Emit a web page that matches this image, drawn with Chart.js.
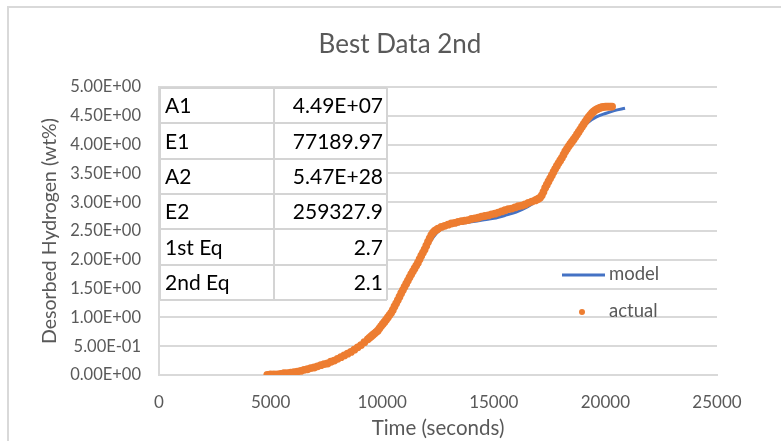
<!DOCTYPE html>
<html>
<head>
<meta charset="utf-8">
<script src="https://cdn.jsdelivr.net/npm/chart.js@4/dist/chart.umd.min.js"></script>
<style>
  html, body { margin: 0; padding: 0; background: #fff; }
  #wrap { position: relative; width: 781px; height: 441px; overflow: hidden; }
  canvas { display: block; }
</style>
</head>
<body>
<div id="wrap"><canvas id="c" width="781" height="441"></canvas></div>
<script>
// Model fit: time (s) vs desorbed hydrogen (wt%)
const modelTime = [5000, 5500, 6000, 6500, 7000, 7500, 8000, 8500, 9000, 9500,
  10000, 10500, 11000, 11500, 12000, 12300, 12600, 13000, 13500, 14000,
  14500, 15000, 15500, 16000, 16500, 16800, 17100, 17400, 17700, 18000,
  18300, 18600, 18900, 19200, 19600, 20000, 20400, 20880];
const modelWt = [0.00, 0.01, 0.03, 0.06, 0.11, 0.18, 0.27, 0.37, 0.48, 0.63,
  0.86, 1.13, 1.47, 1.85, 2.22, 2.40, 2.52, 2.59, 2.63, 2.66,
  2.69, 2.72, 2.77, 2.83, 2.92, 2.99, 3.08, 3.25, 3.55, 3.78,
  3.96, 4.13, 4.27, 4.38, 4.48, 4.54, 4.59, 4.63];

// Measured desorption data (sampled more finely where the curve is steep)
const actualTime = [
  4850, 5000, 5150, 5300, 5450, 5600, 5750, 5900, 6050, 6200,
  6350, 6500, 6650, 6800, 6950, 7100, 7250, 7400, 7550, 7700,
  7850, 8000, 8150, 8300, 8450, 8600, 8750, 8900, 9050, 9200,
  9350,
  9425, 9500, 9575, 9650, 9725, 9800, 9875, 9950, 10025, 10100,
  10175, 10250, 10325, 10400, 10475, 10550, 10625, 10700, 10775, 10850,
  10925, 11000, 11075, 11150, 11225, 11300, 11375, 11450, 11525, 11600,
  11675, 11750, 11825, 11900, 11975, 12050, 12125, 12200, 12275, 12350,
  12425, 12500,
  12650, 12800, 12950, 13100, 13250, 13400, 13550, 13700, 13850, 14000,
  14150, 14300, 14450, 14600, 14750, 14900, 15050, 15200, 15350, 15500,
  15650, 15800, 15950, 16100, 16250, 16400, 16550, 16700, 16850,
  16925, 17000, 17075, 17150, 17225, 17300, 17375, 17450, 17525, 17600,
  17675, 17750, 17825, 17900, 17975, 18050, 18125, 18200, 18275, 18350,
  18425, 18500, 18575, 18650, 18725, 18800, 18875, 18950, 19025, 19100,
  19175, 19250, 19325, 19400, 19475, 19550, 19625, 19700,
  19775, 19850, 19925, 20000, 20075, 20150, 20225, 20300];
const actualWt = [
  0.00, 0.01, 0.01, 0.01, 0.02, 0.03, 0.03, 0.04, 0.05, 0.06,
  0.07, 0.09, 0.10, 0.12, 0.13, 0.15, 0.17, 0.19, 0.20, 0.23,
  0.25, 0.28, 0.31, 0.34, 0.37, 0.40, 0.44, 0.48, 0.52, 0.57,
  0.62,
  0.645, 0.67, 0.695, 0.72, 0.745, 0.77, 0.81, 0.85, 0.885, 0.92,
  0.96, 1.00, 1.04, 1.08, 1.13, 1.19, 1.245, 1.30, 1.36, 1.42,
  1.475, 1.53, 1.585, 1.64, 1.695, 1.75, 1.80, 1.85, 1.90, 1.95,
  2.01, 2.07, 2.125, 2.18, 2.245, 2.31, 2.37, 2.43, 2.47, 2.50,
  2.52, 2.54,
  2.57, 2.59, 2.61, 2.63, 2.64, 2.66, 2.67, 2.68, 2.69, 2.71,
  2.72, 2.73, 2.75, 2.76, 2.77, 2.79, 2.80, 2.82, 2.84, 2.86,
  2.88, 2.89, 2.91, 2.93, 2.94, 2.96, 2.99, 3.01, 3.03,
  3.045, 3.06, 3.08, 3.12, 3.18, 3.25, 3.305, 3.36, 3.415, 3.47,
  3.525, 3.58, 3.63, 3.68, 3.725, 3.77, 3.825, 3.88, 3.925, 3.97,
  4.01, 4.05, 4.09, 4.13, 4.175, 4.22, 4.265, 4.31, 4.355, 4.40,
  4.44, 4.48, 4.515, 4.55, 4.575, 4.60, 4.615, 4.63,
  4.64, 4.65, 4.655, 4.66, 4.66, 4.66, 4.66, 4.66];

// Fitted kinetic parameters shown in the inset table
const paramNames = ['A1', 'E1', 'A2', 'E2', '1st Eq', '2nd Eq'];
const paramValues = ['4.49E+07', '77189.97', '5.47E+28', '259327.9', '2.7', '2.1'];

const yTickLabels = ['0.00E+00', '5.00E-01', '1.00E+00', '1.50E+00', '2.00E+00', '2.50E+00',
  '3.00E+00', '3.50E+00', '4.00E+00', '4.50E+00', '5.00E+00'];
const xTickLabels = ['0', '5000', '10000', '15000', '20000', '25000'];

const FONT = 'Lato, "Open Sans", sans-serif';
const GREY = '#595959';
const BLUE = '#4472C4';
const ORANGE = '#ED7D31';

// Light outer frame of the chart object
const framePlugin = {
  id: 'frame',
  beforeDraw(chart) {
    const ctx = chart.ctx;
    ctx.save();
    ctx.fillStyle = '#fff';
    ctx.fillRect(0, 0, chart.width, chart.height);
    ctx.strokeStyle = '#d9d9d9';
    ctx.lineWidth = 2;
    ctx.strokeRect(8, 7, 900, 900);
    ctx.restore();
  }
};

// Chart heading
const headingPlugin = {
  id: 'heading',
  afterDraw(chart) {
    const ctx = chart.ctx;
    ctx.save();
    ctx.font = '26px ' + FONT;
    ctx.fillStyle = GREY;
    ctx.textAlign = 'center';
    ctx.textBaseline = 'middle';
    ctx.fillText('Best Data 2nd', 400, 45);
    ctx.restore();
  }
};

// Parameter table laid over the upper-left of the plot
const tablePlugin = {
  id: 'paramTable',
  afterDraw(chart) {
    const ctx = chart.ctx;
    const left = 160, mid = 274, right = 387, top = 88, rowH = 35.33;
    const bottom = top + rowH * paramNames.length;
    ctx.save();
    ctx.fillStyle = '#fff';
    ctx.fillRect(left, top, right - left, bottom - top);
    ctx.strokeStyle = '#d4d4d4';
    ctx.lineWidth = 2;
    ctx.beginPath();
    for (let i = 0; i <= paramNames.length; i++) {
      const y = Math.round(top + rowH * i);
      ctx.moveTo(left, y); ctx.lineTo(right, y);
    }
    [left, mid, right].forEach(x => { ctx.moveTo(x, top); ctx.lineTo(x, bottom); });
    ctx.stroke();
    ctx.font = '21px ' + FONT;
    ctx.fillStyle = '#000';
    ctx.textBaseline = 'middle';
    paramNames.forEach((name, i) => {
      const cy = top + rowH * i + rowH / 2 + 1;
      ctx.textAlign = 'left';
      ctx.fillText(name, left + 5, cy);
      ctx.textAlign = 'right';
      ctx.fillText(paramValues[i], right - 4, cy);
    });
    ctx.restore();
  }
};

// Legend placed inside the plot, to the right
const legendPlugin = {
  id: 'insetLegend',
  afterDraw(chart) {
    const ctx = chart.ctx;
    const [model, actual] = chart.data.datasets;
    ctx.save();
    ctx.strokeStyle = model.borderColor;
    ctx.lineWidth = model.borderWidth;
    ctx.beginPath();
    ctx.moveTo(562, 275); ctx.lineTo(605, 275);
    ctx.stroke();
    ctx.fillStyle = actual.backgroundColor;
    ctx.beginPath();
    ctx.arc(582, 312, 3, 0, Math.PI * 2);
    ctx.fill();
    ctx.font = '18.5px ' + FONT;
    ctx.fillStyle = GREY;
    ctx.textAlign = 'left';
    ctx.textBaseline = 'middle';
    ctx.fillText(model.label, 609, 274);
    ctx.fillText(actual.label, 609, 311);
    ctx.restore();
  }
};

new Chart(document.getElementById('c'), {
  type: 'scatter',
  data: {
    datasets: [
      {
        label: 'model',
        data: modelTime.map((t, i) => ({ x: t, y: modelWt[i] })),
        showLine: true,
        borderColor: BLUE,
        backgroundColor: BLUE,
        borderWidth: 3,
        pointRadius: 0,
        cubicInterpolationMode: 'monotone',
        order: 2
      },
      {
        label: 'actual',
        data: actualTime.map((t, i) => ({ x: t, y: actualWt[i] })),
        showLine: false,
        backgroundColor: ORANGE,
        borderColor: ORANGE,
        borderWidth: 0,
        pointRadius: 3.9,
        order: 1
      }
    ]
  },
  options: {
    responsive: false,
    animation: false,
    devicePixelRatio: 1,
    layout: { padding: { top: 87, right: 64, left: 0, bottom: 0 } },
    plugins: {
      legend: { display: false },
      tooltip: { enabled: false },
      title: { display: false }
    },
    scales: {
      x: {
        type: 'linear',
        min: 0,
        max: 25000,
        ticks: {
          stepSize: 5000,
          padding: 17,
          color: GREY,
          font: { family: FONT, size: 17 },
          callback: (v, i) => xTickLabels[i]
        },
        grid: { display: false, drawTicks: false },
        border: { display: true, color: '#d9d9d9', width: 2 },
        title: { display: true, text: 'Time (seconds)', color: GREY, font: { family: FONT, size: 20.5 }, padding: { top: 0, bottom: 0 } },
        afterFit(scale) { scale.height = 66; }
      },
      y: {
        min: 0,
        max: 5,
        ticks: {
          stepSize: 0.5,
          padding: 18,
          color: GREY,
          font: { family: FONT, size: 16.5 },
          callback: (v, i) => yTickLabels[i]
        },
        grid: { color: '#d9d9d9', lineWidth: 2, drawTicks: false },
        border: { display: true, color: '#d9d9d9', width: 2 },
        title: { display: true, text: 'Desorbed Hydrogen (wt%)', color: GREY, font: { family: FONT, size: 19.5 }, padding: { top: 38, bottom: 0 } },
        afterFit(scale) { scale.width = 159; }
      }
    }
  },
  plugins: [framePlugin, headingPlugin, tablePlugin, legendPlugin]
});
</script>
</body>
</html>
